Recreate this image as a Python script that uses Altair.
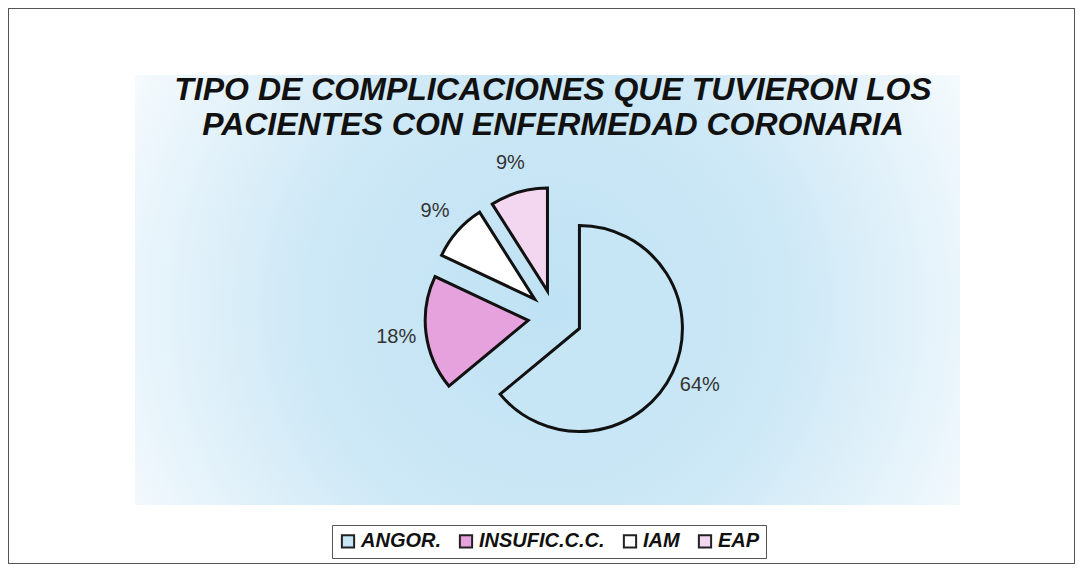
import altair as alt
import pandas as pd

# ---- data ----
categories = ["ANGOR.", "INSUFIC.C.C.", "IAM", "EAP"]
percent = [64, 18, 9, 9]
order = [0, 1, 2, 3]
colors = ["#c6e5f5", "#e6a2dd", "#ffffff", "#f3d6ef"]
title_lines = ["TIPO DE COMPLICACIONES QUE TUVIERON LOS",
               "PACIENTES CON ENFERMEDAD CORONARIA"]

# ---- layout (pixels inside the plot area) ----
W, H = 1067, 556
CX, CY = 547, 309
R = 103
EXPLODE = 27
LABEL_R = 160
FONT = "Liberation Sans"

df = pd.DataFrame({"cat": categories, "pct": percent, "ord": order})

base = (
    alt.Chart(df)
    .transform_joinaggregate(total="sum(pct)")
    .transform_window(cum="sum(pct)", sort=[alt.SortField("ord")], frame=[None, 0])
    .transform_calculate(
        t1="2*PI*datum.cum/datum.total",
        t0="2*PI*(datum.cum-datum.pct)/datum.total",
    )
    .transform_calculate(mid="(datum.t0+datum.t1)/2")
    .transform_calculate(
        cx=f"{CX}+{EXPLODE}*sin(datum.mid)",
        cy=f"{CY}-{EXPLODE}*cos(datum.mid)",
        lx=f"{CX}+{LABEL_R}*sin(datum.mid)",
        ly=f"{CY}-{LABEL_R}*cos(datum.mid)",
        lab="datum.pct + '%'",
    )
)

legend = alt.Legend(
    orient="none", legendX=324, legendY=517, direction="horizontal", title=None,
    strokeColor="#555", fillColor="white", padding=6, cornerRadius=0,
    symbolType="square", symbolSize=150, symbolStrokeColor="#222", symbolStrokeWidth=2,
    labelFont=FONT, labelFontSize=20, labelFontWeight="bold", labelFontStyle="italic",
    labelColor="#111", labelOffset=3, labelLimit=400, columnPadding=14,
)

arcs = base.mark_arc(outerRadius=R, stroke="#111", strokeWidth=3, strokeJoin="miter").encode(
    x=alt.X("cx:Q", scale=None, axis=None),
    y=alt.Y("cy:Q", scale=None, axis=None),
    theta=alt.Theta("t0:Q", scale=None),
    theta2="t1:Q",
    fill=alt.Fill("cat:N", scale=alt.Scale(domain=categories, range=colors),
                  sort=categories, legend=legend),
)

labels = base.mark_text(font=FONT, fontSize=20, color="#333").encode(
    x=alt.X("lx:Q", scale=None, axis=None),
    y=alt.Y("ly:Q", scale=None, axis=None),
    text="lab:N",
)

bg = alt.Chart(alt.Data(values=[{}])).mark_rect(
    fill=alt.RadialGradient(
        gradient="radial", x1=0.5, y1=0.52, r1=0, x2=0.5, y2=0.52, r2=0.64,
        stops=[alt.GradientStop(offset=0, color="#bfe2f4"),
               alt.GradientStop(offset=0.45, color="#cde8f6"),
               alt.GradientStop(offset=0.78, color="#eaf5fb"),
               alt.GradientStop(offset=1, color="#ffffff")],
    )
).encode(x=alt.value(127), x2=alt.value(952), y=alt.value(67), y2=alt.value(497))

tdf = pd.DataFrame({"t": title_lines, "i": [0, 1]})
title = alt.Chart(tdf).transform_calculate(ty="82 + 35*datum.i").mark_text(
    font=FONT, fontSize=32, fontWeight="bold", fontStyle="italic", color="#111",
    baseline="middle", align="center",
).encode(x=alt.value(545), y=alt.Y("ty:Q", scale=None, axis=None), text="t:N")

chart = (
    alt.layer(bg, title, arcs, labels)
    .properties(width=W, height=H, padding=0, background="white",
                autosize=alt.AutoSizeParams(type="fit", contains="padding"))
    .configure_view(stroke="#555", strokeWidth=2, fill="white")
)

chart.save("out.html", embed_options={"renderer": "svg", "actions": False})
